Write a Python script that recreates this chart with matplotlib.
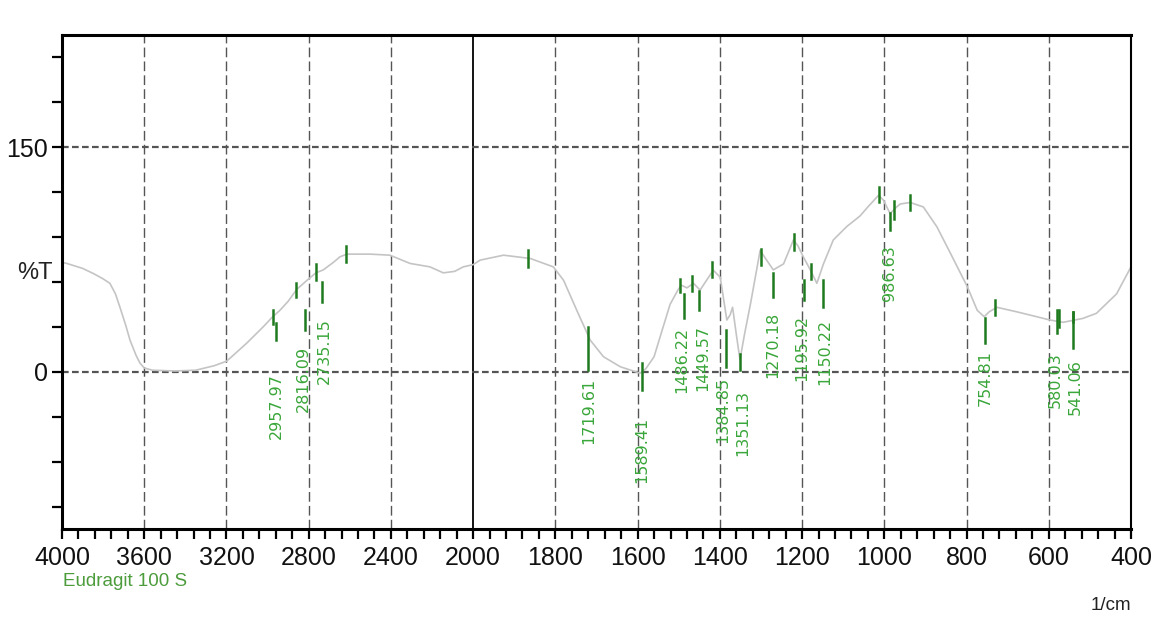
import numpy as np
import matplotlib
matplotlib.use("Agg")
import matplotlib.pyplot as plt
import matplotlib.transforms as mtransforms
from matplotlib import font_manager
from matplotlib.ticker import FixedLocator, FixedFormatter, NullFormatter

# ---------------- data ----------------
wavenumber = [4000, 3977, 3900, 3848, 3800, 3767, 3740, 3718, 3690, 3669, 3640, 3621, 3600,
              3560, 3450, 3350, 3260, 3200, 3183, 3102, 3021, 2980, 2940, 2900, 2858,
              2800, 2765, 2729, 2680, 2648, 2615, 2500, 2405, 2307, 2210, 2145, 2090,
              2048, 2000, 1983, 1926, 1861, 1805, 1780, 1748, 1715, 1683, 1642, 1594,
              1580, 1560, 1540, 1521, 1502, 1494, 1480, 1464, 1448, 1430, 1416, 1399,
              1383, 1375, 1369, 1360, 1351, 1340, 1325, 1302, 1285, 1270, 1245, 1221,
              1210, 1197, 1180, 1164, 1148, 1124, 1091, 1059, 1040, 1014, 1002, 986,
              970, 961, 937, 905, 872, 839, 798, 774, 757, 745, 726, 678, 629, 597,
              565, 517, 484, 435, 400]
transmittance = [73, 72.3, 69, 65.6, 62, 59, 52, 43, 31, 21, 11, 5.8, 2.5,
                 1, 0.5, 1, 4, 7, 9, 19, 30, 36, 41, 47, 55,
                 62, 66, 68, 73, 76.7, 78.5, 78.5, 77.8, 72.3, 70, 66, 67,
                 70, 71.5, 74.5, 77.8, 75.6, 70, 61, 41, 21, 10, 3.3, -1,
                 2, 10, 28, 45, 54.5, 57.8, 56, 59, 54.5, 62, 67.8, 63,
                 34.5, 38, 43, 25, 8, 25, 46, 81, 74, 68, 72, 88,
                 84, 76.7, 68, 59, 72, 88, 97, 104, 110, 117.8, 114.5, 105.6,
                 110, 112, 113, 110, 96.7, 79, 56.7, 41, 36.7, 40, 43, 40, 36.7, 34.5,
                 33, 35.6, 39, 52, 70]

peak_wn = [2957.97, 2816.09, 2735.15, 1719.61, 1589.41, 1486.22, 1449.57, 1384.85,
           1351.13, 1270.18, 1195.92, 1150.22, 986.63, 754.81, 580.03, 541.06]
peak_labels = ["2957.97", "2816.09", "2735.15", "1719.61", "1589.41", "1486.22", "1449.57",
               "1384.85", "1351.13", "1270.18", "1195.92", "1150.22", "986.63", "754.81",
               "580.03", "541.06"]
peak_line_top = [32.5, 41, 60, 30, 6, 52, 54, 28, 12, 66, 61, 61, 106, 36, 41, 40]
peak_line_bottom = [21, 28, 46.5, 1, -12, 36, 41, 3, 1, 50, 48, 43, 94.5, 19, 26, 16]
peak_label_y = [-23, -4.5, 14, -26, -52, 8, 9, -25.5, -34, 18, 16, 13, 66, -4.5, -5.5, -10]
peak_label_shift = [0, -2, 2, 0, 0, -3, 3, -3, 3, 0, -2, 2, 0, 0, -2, 2]

marker_wn = [2975, 2862, 2765, 2619, 1866, 1497, 1467, 1419, 1300, 1219, 1178, 1013, 976, 937, 731, 575, 541]
marker_top = [41, 59, 72, 84, 81, 62, 64, 73, 82, 92, 72, 123, 114, 118, 48, 41, 40]
marker_bottom = [32, 50, 61, 73, 70, 53, 54, 63, 71, 81, 62, 113, 102, 108, 38, 30, 33]

x_major = [4000, 3600, 3200, 2800, 2400, 2000, 1800, 1600, 1400, 1200, 1000, 800, 600, 400]
x_minor_left = list(range(4000, 2000, -80))
x_minor_right = list(range(2000, 399, -40))
y_ticks_all = [-90, -60, -30, 0, 30, 60, 90, 120, 150, 180, 210]
y_labeled = [0, 150]

# ---------------- fonts ----------------
names = {f.name for f in font_manager.fontManager.ttflist}
narrow = "Liberation Sans Narrow" if "Liberation Sans Narrow" in names else "Liberation Sans"
NF = [narrow, "DejaVu Sans"]

# ---------------- scale ----------------
def fwd(x):
    x = np.asarray(x, dtype=float)
    return np.where(x >= 2000, x, 2 * x - 2000)

def inv(t):
    t = np.asarray(t, dtype=float)
    return np.where(t >= 2000, t, (t + 2000) / 2)

fig = plt.figure(figsize=(11.53, 6.28), dpi=100)
ax = fig.add_axes([62 / 1153, 1 - 529 / 628, (1131 - 62) / 1153, (529 - 34.7) / 628])
ax.set_xscale("function", functions=(fwd, inv))
ax.set_xlim(4000, 400)
ax.set_ylim(-105, 225)

# grid
grid_col = "#555555"
for xv in x_major[1:-1]:
    if xv == 2000:
        ax.axvline(xv, color="black", lw=1.3, zorder=1)
    else:
        ax.axvline(xv, color=grid_col, lw=1.0, ls=(0, (7, 3)), zorder=1)
for yv in y_labeled:
    ax.axhline(yv, color=grid_col, lw=1.6, ls=(0, (3, 1.5)), zorder=1)

# spectrum
ax.plot(wavenumber, transmittance, color="#c4c4c4", lw=1.2, zorder=2)

# peak markers
mk_col = "#1f7a1f"
for w, t, b in zip(marker_wn, marker_top, marker_bottom):
    ax.plot([w, w], [b, t], color=mk_col, lw=1.8, zorder=3)
for w, t, b, ly, lab, sh in zip(peak_wn, peak_line_top, peak_line_bottom, peak_label_y,
                                 peak_labels, peak_label_shift):
    ax.plot([w, w], [b, t], color=mk_col, lw=1.8, zorder=3)
    off = mtransforms.ScaledTranslation(sh / 100, 0, fig.dpi_scale_trans)
    ax.text(w, ly, lab, rotation=90, ha="center", va="center", color="#3aa63a",
            fontsize=11.5, family=["DejaVu Sans"], zorder=4,
            transform=ax.transData + off)

# ticks
ax.xaxis.set_major_locator(FixedLocator(x_major))
ax.xaxis.set_minor_locator(FixedLocator(x_minor_left + x_minor_right))
ax.xaxis.set_major_formatter(FixedFormatter([str(v) for v in x_major]))
ax.xaxis.set_minor_formatter(NullFormatter())
ax.yaxis.set_major_locator(FixedLocator(y_labeled))
ax.yaxis.set_major_formatter(FixedFormatter([str(v) for v in y_labeled]))
ax.yaxis.set_minor_locator(FixedLocator(y_ticks_all))
ax.tick_params(axis="both", which="both", direction="out", length=7, width=1.6, color="black")
ax.tick_params(axis="x", which="major", pad=5)
ax.tick_params(axis="y", which="major", pad=3)
for lbl in ax.get_xticklabels() + ax.get_yticklabels():
    lbl.set_family(NF)
    lbl.set_fontsize(18)
    lbl.set_color("#111111")

for side in ["left", "top", "bottom"]:
    ax.spines[side].set_linewidth(2.2)
ax.spines["right"].set_linewidth(1.5)

fig.text(35 / 1153, 1 - 273 / 628, "%T", ha="center", va="center", fontsize=17,
         family=NF, color="#222222")
fig.text(63 / 1153, 1 - 581 / 628, "Eudragit 100 S", ha="left", va="center", fontsize=13.5,
         family=NF, color="#4c9c3c")
fig.text(1131 / 1153, 1 - 606 / 628, "1/cm", ha="right", va="center", fontsize=13.5,
         family=NF, color="#222222")

fig.savefig("out.png", dpi=100)
